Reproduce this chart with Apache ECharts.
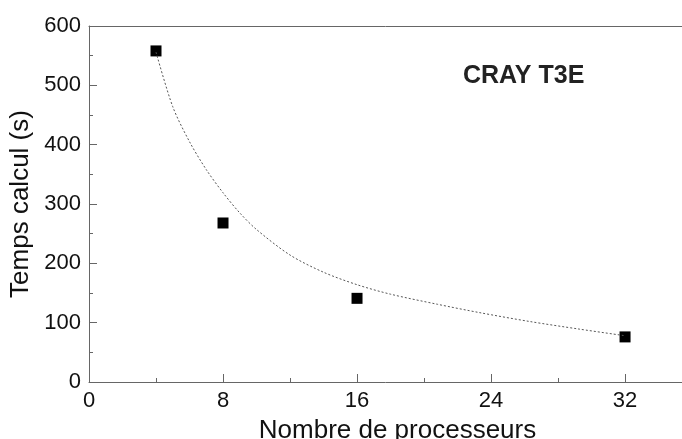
<!DOCTYPE html>
<html><head><meta charset="utf-8">
<script src="https://cdn.jsdelivr.net/npm/echarts@6/dist/echarts.min.js"></script>
<style>html,body{margin:0;padding:0;background:#fff}#c{width:682px;height:439px}</style>
</head><body><div id="c"></div>
<script>
// measured points
var procs = [4, 8, 16, 32];
var times = [558, 268, 141, 76];
// dashed fitted curve
var fitX = [4, 5, 6, 7, 8, 9, 10, 12, 14, 16, 18, 20.8, 23.3, 26.3, 29.3, 32];
var fitY = [556, 464, 405, 358, 319, 285, 257, 214, 185, 164, 148, 131, 117, 102, 89, 78];
var xTicks = [0, 8, 16, 24, 32];
var yTicks = [0, 100, 200, 300, 400, 500, 600];
var xTitle = 'Nombre de processeurs';
var yTitle = 'Temps calcul (s)';
var label = 'CRAY T3E';

var chart = echarts.init(document.getElementById('c'));
var axisCol = '#666';
var font = 'Liberation Sans, Arial, sans-serif';
chart.setOption({
  animation: false,
  grid: {left: 89, top: 26, right: 0, bottom: 57, containLabel: false, outerBoundsMode: 'none'},
  xAxis: [{
    type: 'value', min: xTicks[0], max: 35.4, interval: 8,
    axisLine: {show: true, lineStyle: {color: axisCol, width: 1}},
    axisTick: {show: true, inside: true, length: 8, lineStyle: {color: axisCol}},
    minorTick: {show: true, splitNumber: 2, length: 4, lineStyle: {color: axisCol}},
    splitLine: {show: false},
    axisLabel: {color: '#111', fontSize: 22, fontFamily: font, margin: 8, showMaxLabel: false,
      formatter: function (v) { return xTicks.indexOf(v) >= 0 ? String(v) : ''; }},
    name: xTitle, nameLocation: 'middle', nameGap: 36,
    nameTextStyle: {color: '#111', fontSize: 26, fontFamily: font, padding: [0, 0, 0, 24]}
  }, {
    type: 'value', position: 'top', min: 0, max: 35.4,
    axisLine: {show: true, onZero: false, lineStyle: {color: axisCol, width: 1}},
    axisTick: {show: false}, axisLabel: {show: false}, splitLine: {show: false}
  }],
  yAxis: {
    type: 'value', min: yTicks[0], max: yTicks[yTicks.length - 1], interval: 100,
    axisLine: {show: true, lineStyle: {color: axisCol, width: 1}},
    axisTick: {show: true, inside: true, length: 8, lineStyle: {color: axisCol}},
    minorTick: {show: true, splitNumber: 2, length: 4, lineStyle: {color: axisCol}},
    splitLine: {show: false},
    axisLabel: {color: '#111', fontSize: 22, fontFamily: font, margin: 8},
    name: yTitle, nameLocation: 'middle', nameGap: 51,
    nameTextStyle: {color: '#111', fontSize: 26, fontFamily: font}
  },
  graphic: [{
    type: 'text', left: 463, top: 64,
    style: {text: label, font: 'bold 25px ' + font, fill: '#222'}
  }],
  series: [{
    type: 'line', data: fitX.map(function (x, i) { return [x, fitY[i]]; }),
    smooth: 0.3, showSymbol: false, silent: true,
    lineStyle: {color: '#555', width: 1, type: [2, 2]}
  }, {
    type: 'scatter', data: procs.map(function (x, i) { return [x, times[i]]; }),
    symbol: 'rect', symbolSize: 11, itemStyle: {color: '#000', opacity: 1}
  }]
});
</script></body></html>
